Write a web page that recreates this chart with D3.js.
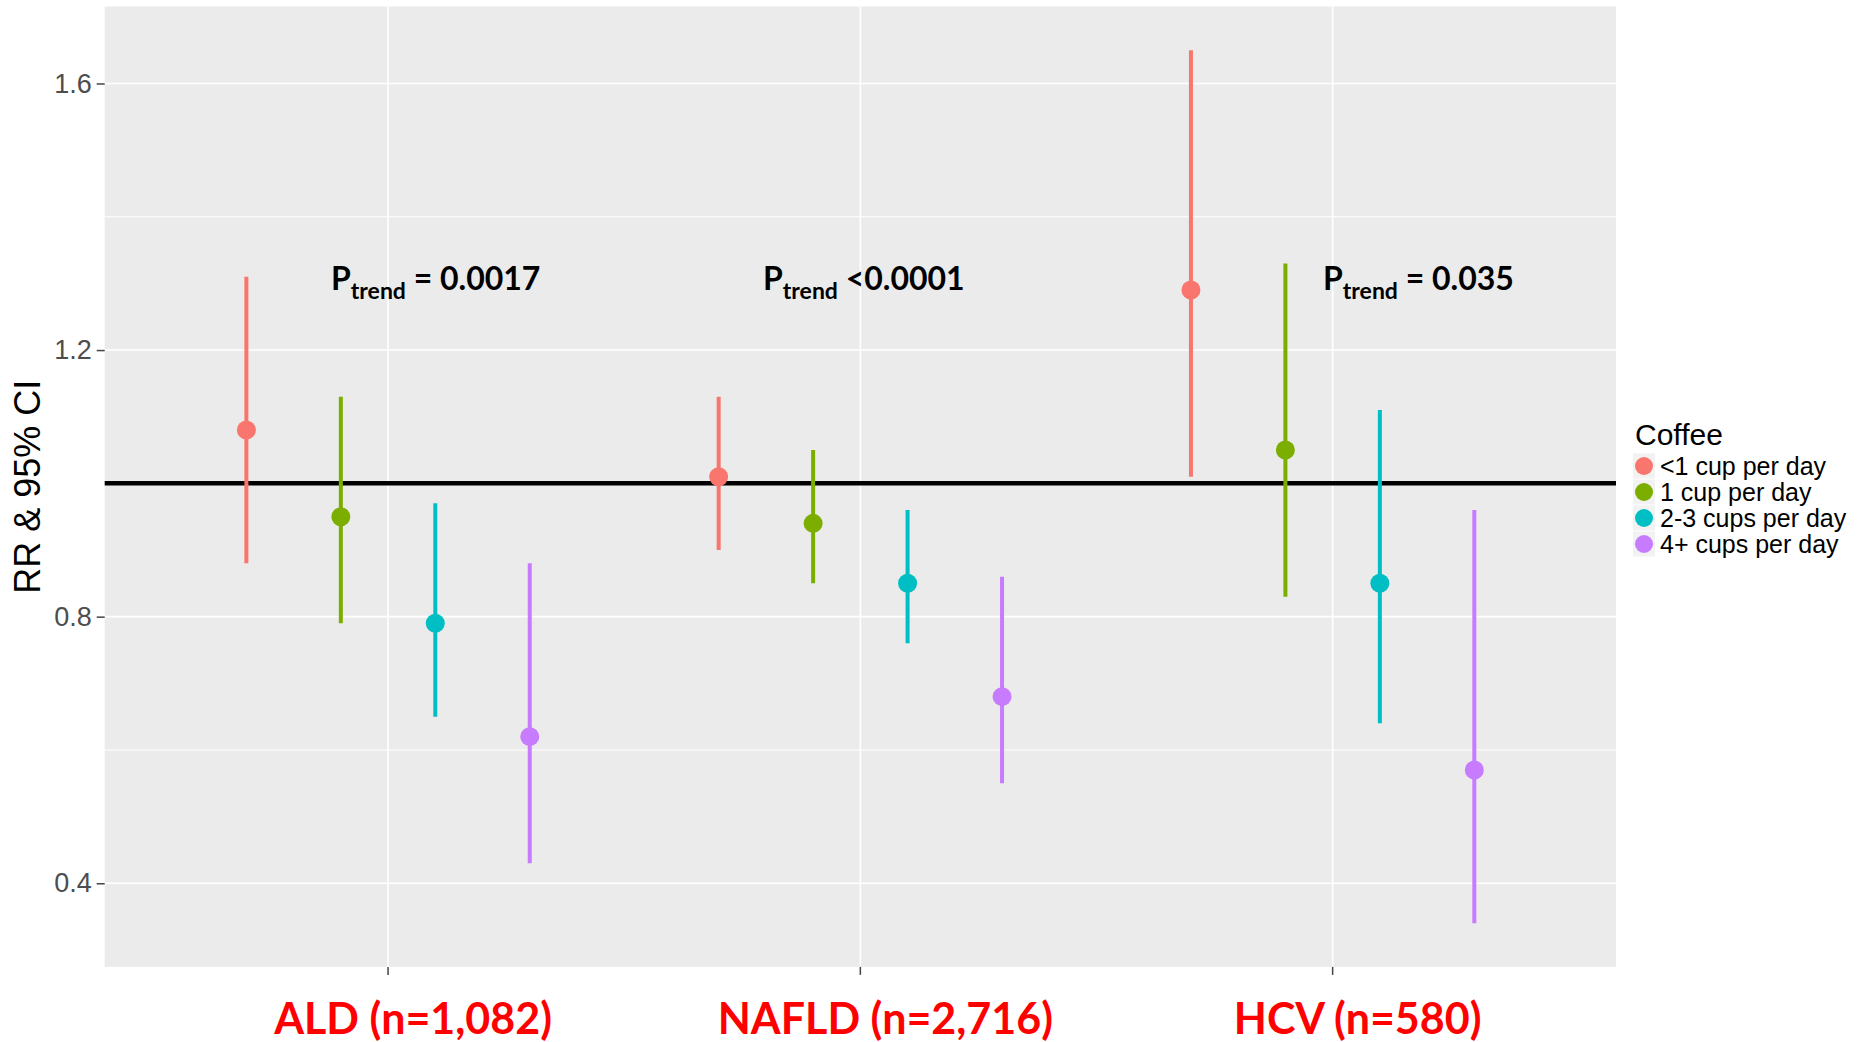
<!DOCTYPE html>
<html>
<head>
<meta charset="utf-8">
<script src="https://cdn.jsdelivr.net/npm/d3@7"></script>
<style>
  html, body { margin: 0; padding: 0; background: #ffffff; }
  svg { display: block; }
</style>
</head>
<body>
<svg id="chart" width="1866" height="1042"></svg>
<script>
// ---------------- data ----------------
const groups = ["ALD (n=1,082)", "NAFLD (n=2,716)", "HCV (n=580)"];
const coffeeLevels = ["<1 cup per day", "1 cup per day", "2-3 cups per day", "4+ cups per day"];
const coffeeColors = ["#F8766D", "#7CAE00", "#00BFC4", "#C77CFF"];

const rrALD   = [1.08, 0.95, 0.79, 0.62];
const loALD   = [0.88, 0.79, 0.65, 0.43];
const hiALD   = [1.31, 1.13, 0.97, 0.88];

const rrNAFLD = [1.01, 0.94, 0.85, 0.68];
const loNAFLD = [0.90, 0.85, 0.76, 0.55];
const hiNAFLD = [1.13, 1.05, 0.96, 0.86];

const rrHCV   = [1.29, 1.05, 0.85, 0.57];
const loHCV   = [1.01, 0.83, 0.64, 0.34];
const hiHCV   = [1.65, 1.33, 1.11, 0.96];

const yTicks = [0.4, 0.8, 1.2, 1.6];
const yMinor = [0.6, 1.0, 1.4];
const refValue = 1.0;

const pTrendText = [" = 0.0017", " <0.0001", " = 0.035"];

// ---------------- layout ----------------
const W = 1866, H = 1042;
const panel = { left: 104.7, right: 1616, top: 6.5, bottom: 966.9 };
const pAnnot = [ {x: 331, y: 290}, {x: 763, y: 290}, {x: 1323, y: 290} ]; // annotation placement (px)

const rows = [
  { rr: rrALD, lo: loALD, hi: hiALD },
  { rr: rrNAFLD, lo: loNAFLD, hi: hiNAFLD },
  { rr: rrHCV, lo: loHCV, hi: hiHCV }
];
const data = [];
groups.forEach((g, gi) => {
  coffeeLevels.forEach((c, ci) => {
    data.push({ group: g, coffee: c, rr: rows[gi].rr[ci], lo: rows[gi].lo[ci], hi: rows[gi].hi[ci] });
  });
});

const svg = d3.select("#chart");

const x = d3.scaleBand().domain(groups).range([panel.left, panel.right]).paddingInner(0).paddingOuter(0.1);
const xInner = d3.scaleBand().domain(coffeeLevels).range([0, x.bandwidth()]).paddingInner(0).paddingOuter(0.5);
const y = d3.scaleLinear().domain([0.2745, 1.7155]).range([panel.bottom, panel.top]);
const color = d3.scaleOrdinal().domain(coffeeLevels).range(coffeeColors);

const xc = g => x(g) + x.bandwidth() / 2;
const xp = d => x(d.group) + xInner(d.coffee) + xInner.bandwidth() / 2;

// panel background
svg.append("rect")
  .attr("x", panel.left).attr("y", panel.top)
  .attr("width", panel.right - panel.left).attr("height", panel.bottom - panel.top)
  .attr("fill", "#ebebeb");

// grid
const grid = svg.append("g");
grid.selectAll(".minor").data(yMinor).enter().append("line")
  .attr("x1", panel.left).attr("x2", panel.right)
  .attr("y1", d => y(d)).attr("y2", d => y(d))
  .attr("stroke", "#ffffff").attr("stroke-width", 1.1);
grid.selectAll(".major").data(yTicks).enter().append("line")
  .attr("x1", panel.left).attr("x2", panel.right)
  .attr("y1", d => y(d)).attr("y2", d => y(d))
  .attr("stroke", "#ffffff").attr("stroke-width", 1.6);
grid.selectAll(".vmajor").data(groups).enter().append("line")
  .attr("x1", d => xc(d)).attr("x2", d => xc(d))
  .attr("y1", panel.top).attr("y2", panel.bottom)
  .attr("stroke", "#ffffff").attr("stroke-width", 1.6);

// reference line
svg.append("line")
  .attr("x1", panel.left).attr("x2", panel.right)
  .attr("y1", y(refValue)).attr("y2", y(refValue))
  .attr("stroke", "#000000").attr("stroke-width", 4.5);

// error bars
svg.append("g").selectAll("line").data(data).enter().append("line")
  .attr("x1", d => xp(d)).attr("x2", d => xp(d))
  .attr("y1", d => y(d.lo)).attr("y2", d => y(d.hi))
  .attr("stroke", d => color(d.coffee)).attr("stroke-width", 4);

// points
svg.append("g").selectAll("circle").data(data).enter().append("circle")
  .attr("cx", d => xp(d)).attr("cy", d => y(d.rr))
  .attr("r", 9.5)
  .attr("fill", d => color(d.coffee));

// y axis
const yAxis = svg.append("g")
  .attr("transform", `translate(${panel.left},0)`)
  .call(d3.axisLeft(y).tickValues(yTicks).tickFormat(d3.format(".1f")).tickSize(8).tickPadding(5));
yAxis.select(".domain").remove();
yAxis.selectAll(".tick line").attr("stroke", "#444444").attr("stroke-width", 1.5);
yAxis.selectAll(".tick text")
  .attr("fill", "#4d4d4d")
  .style("font-family", "'Liberation Sans', Arial, sans-serif")
  .style("font-size", "27px");

// x axis (ticks only)
const xAxis = svg.append("g")
  .attr("transform", `translate(0,${panel.bottom})`)
  .call(d3.axisBottom(x).tickSize(8).tickFormat(""));
xAxis.select(".domain").remove();
xAxis.selectAll(".tick line").attr("stroke", "#444444").attr("stroke-width", 1.5);

// x category labels
svg.append("g").selectAll("text").data(groups).enter().append("text")
  .attr("x", d => xc(d) + 25)
  .attr("y", 1034)
  .attr("text-anchor", "middle")
  .attr("fill", "#ff0000")
  .style("font-family", "Lato, 'Open Sans', sans-serif")
  .style("font-weight", "bold")
  .style("font-size", "43px")
  .text(d => d);

// y title
svg.append("text")
  .attr("transform", `translate(40,${(panel.top + panel.bottom) / 2}) rotate(-90)`)
  .attr("text-anchor", "middle")
  .attr("fill", "#000000")
  .style("font-family", "'Liberation Sans', Arial, sans-serif")
  .style("font-size", "36px")
  .text("RR & 95% CI");

// p-trend annotations
const ann = svg.append("g").selectAll("text").data(pTrendText).enter().append("text")
  .attr("x", (d, i) => pAnnot[i].x)
  .attr("y", (d, i) => pAnnot[i].y)
  .attr("fill", "#000000")
  .style("font-family", "Lato, 'Open Sans', sans-serif")
  .style("font-weight", "bold")
  .style("font-size", "32px");
ann.append("tspan").text("P");
ann.append("tspan").attr("dy", 9).style("font-size", "23px").text("trend");
ann.append("tspan").attr("dy", -9).text(d => d);

// legend
const lg = svg.append("g");
lg.append("text")
  .attr("x", 1635).attr("y", 445)
  .attr("fill", "#000000")
  .style("font-family", "'Liberation Sans', Arial, sans-serif")
  .style("font-size", "30px")
  .text("Coffee");
const items = lg.selectAll(".item").data(coffeeLevels).enter().append("g")
  .attr("transform", (d, i) => `translate(0,${466 + i * 26})`);
items.append("rect")
  .attr("x", 1633).attr("y", -12.5).attr("width", 22).attr("height", 25)
  .attr("fill", "#f2f2f2");
items.append("circle")
  .attr("cx", 1644).attr("cy", 0).attr("r", 9)
  .attr("fill", d => color(d));
items.append("text")
  .attr("x", 1660).attr("y", 9)
  .attr("fill", "#000000")
  .style("font-family", "'Liberation Sans', Arial, sans-serif")
  .style("font-size", "25px")
  .text(d => d);
</script>
</body>
</html>
